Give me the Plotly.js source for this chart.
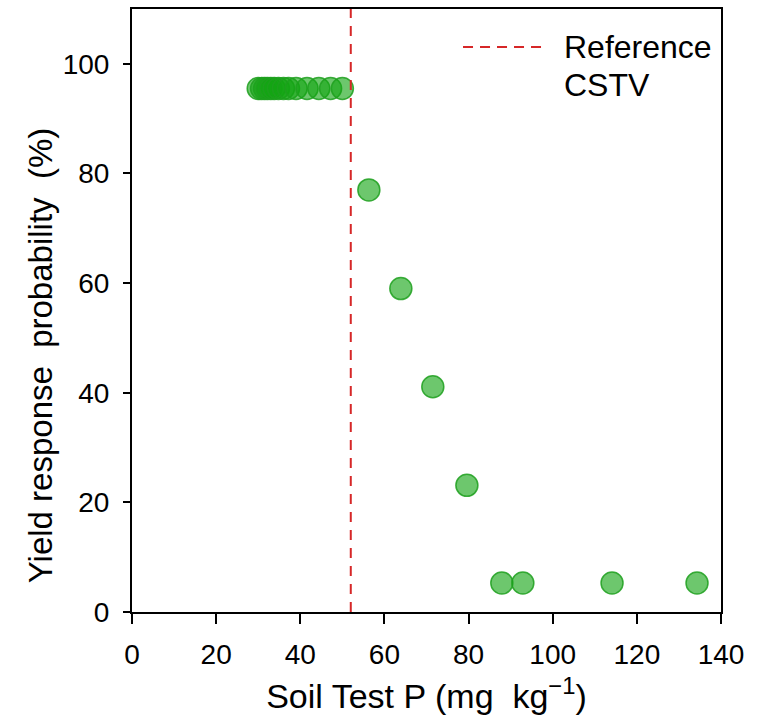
<!DOCTYPE html>
<html>
<head>
<meta charset="utf-8">
<script src="https://cdn.plot.ly/plotly-3.0.1.min.js"></script>
<style>html,body{margin:0;padding:0;background:#fff;}#chart{width:763px;height:725px;}</style>
</head>
<body>
<div id="chart"></div>
<script>
// Data
var soilTestP = [30, 30.8, 31.5, 32.2, 33, 33.8, 34.8, 36, 37.2, 39, 41.6, 44.4, 47.2, 50,
                 56.3, 63.9, 71.5, 79.6, 87.9, 92.9, 114.1, 134.3];
var yieldProb = [95.5, 95.5, 95.5, 95.5, 95.5, 95.5, 95.5, 95.5, 95.5, 95.5, 95.5, 95.5, 95.5, 95.5,
                 77.0, 59.0, 41.1, 23.1, 5.3, 5.3, 5.3, 5.3];
var cstv = 52;
var cstvLine = {x: [cstv, cstv], y: [0, 110]};
var legendLines = ['Reference', 'CSTV'];
var xTicks = [0, 20, 40, 60, 80, 100, 120, 140];
var yTicks = [0, 20, 40, 60, 80, 100];
var xTitle = 'Soil Test P (mg&nbsp; kg<sup>−1</sup>)';
var yTitle = 'Yield response&nbsp; probability&nbsp; (%)';

var FONT = 'Liberation Sans, Arial, sans-serif';

var traces = [
  {
    type: 'scatter', mode: 'markers',
    x: soilTestP, y: yieldProb,
    marker: {size: 22, color: 'rgba(20,165,20,0.62)', line: {color: 'rgba(30,160,30,0.85)', width: 1.5}},
    showlegend: false, hoverinfo: 'x+y'
  },
  {
    type: 'scatter', mode: 'lines',
    x: cstvLine.x, y: cstvLine.y,
    line: {color: '#d62728', width: 2, dash: '10px,8px'},
    showlegend: false
  }
];

var layout = {
  width: 763, height: 725,
  margin: {l: 132, r: 42, t: 9, b: 113},
  paper_bgcolor: '#fff', plot_bgcolor: '#fff',
  font: {family: FONT, color: '#000', size: 28},
  showlegend: false,
  xaxis: {
    range: [0, 140], tickvals: xTicks, ticktext: xTicks.map(String),
    showgrid: false, zeroline: false,
    showline: true, linecolor: '#000', linewidth: 2, mirror: true,
    ticks: 'outside', ticklen: 10, tickwidth: 2, tickcolor: '#000',
    ticklabelstandoff: 6,
    tickfont: {family: FONT, size: 28, color: '#000'},
    title: {text: xTitle, font: {family: FONT, size: 34, color: '#000'}, standoff: 16}
  },
  yaxis: {
    range: [0, 110], tickvals: yTicks, ticktext: yTicks.map(String),
    showgrid: false, zeroline: false,
    showline: true, linecolor: '#000', linewidth: 2, mirror: true,
    ticks: 'outside', ticklen: 7, tickwidth: 2, tickcolor: '#000',
    ticklabelstandoff: 8,
    tickfont: {family: FONT, size: 28, color: '#000'}
  },
  shapes: [
    {type: 'line', xref: 'paper', yref: 'paper', x0: 0.5620, x1: 0.7010, y0: 0.9370, y1: 0.9370,
     line: {color: '#d62728', width: 2, dash: '10px,7px'}}
  ],
  annotations: [
    {xref: 'paper', yref: 'paper', x: 0.7300, y: 0.9370, xanchor: 'left', yanchor: 'middle',
     text: legendLines[0], showarrow: false, align: 'left',
     font: {family: FONT, size: 32, color: '#000'}},
    {xref: 'paper', yref: 'paper', x: 0.7300, y: 0.8740, xanchor: 'left', yanchor: 'middle',
     text: legendLines[1], showarrow: false, align: 'left',
     font: {family: FONT, size: 32, color: '#000'}},
    {xref: 'paper', yref: 'paper', x: -0.156, y: 0.426, xanchor: 'center', yanchor: 'middle',
     text: yTitle, textangle: -90, showarrow: false,
     font: {family: FONT, size: 33, color: '#000'}}
  ]
};

Plotly.newPlot('chart', traces, layout, {displayModeBar: false, staticPlot: true});
</script>
</body>
</html>
